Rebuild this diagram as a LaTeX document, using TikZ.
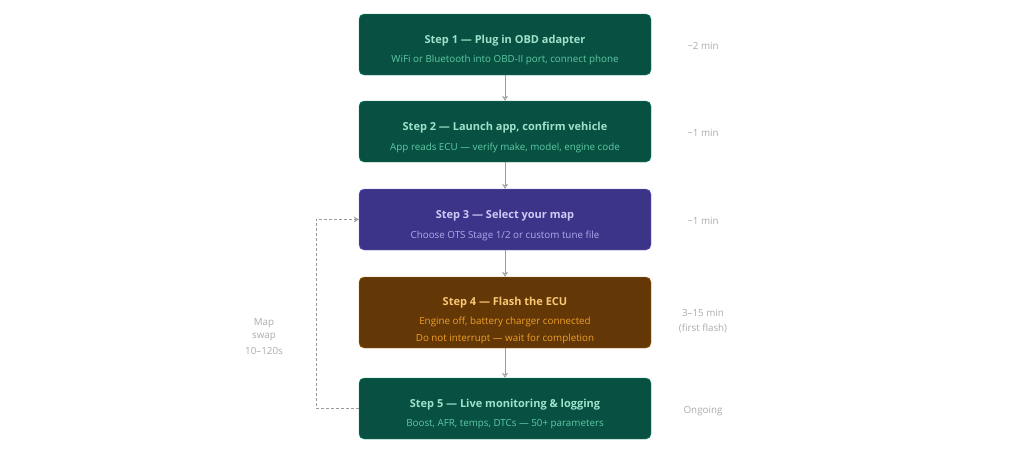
\documentclass[tikz,border=0pt]{standalone}
\usepackage{fontspec}
\setmainfont{Open Sans}
\usetikzlibrary{arrows.meta}
\definecolor{gbg}{HTML}{085041}
\definecolor{gbd}{HTML}{1D9E75}
\definecolor{gti}{HTML}{9FE1CB}
\definecolor{gsu}{HTML}{5DCAA5}
\definecolor{pbg}{HTML}{3C3489}
\definecolor{pbd}{HTML}{7F77DD}
\definecolor{pti}{HTML}{CECBF6}
\definecolor{psu}{HTML}{AFA9EC}
\definecolor{bbg}{HTML}{633806}
\definecolor{bbd}{HTML}{BA7517}
\definecolor{bti}{HTML}{FAC775}
\definecolor{bsu}{HTML}{EF9F27}
\definecolor{conn}{HTML}{9A9A9A}
\definecolor{note}{HTML}{ABABAB}
\tikzset{
  stepbox/.style={rectangle, rounded corners=5pt, minimum width=292pt, line width=0.4pt, inner sep=0pt},
  ttl/.style={font=\fontsize{11}{13}\selectfont\bfseries, yshift=-1.5pt},
  sub/.style={font=\fontsize{9.8}{11}\selectfont, yshift=-1.5pt},
  notetxt/.style={font=\fontsize{9.8}{11}\selectfont, text=note, align=center, yshift=-1pt},
  link/.style={draw=conn, line width=0.7pt, -{Stealth[open, length=5pt, width=6pt]}},
  loopl/.style={draw=conn, line width=0.8pt, dashed, dash pattern=on 3pt off 2pt, -{Stealth[open, length=5pt, width=6pt]}}
}
\begin{document}
\begin{tikzpicture}[x=1pt,y=-1pt]
\useasboundingbox (0,0) rectangle (1015,459);
% boxes
\node[stepbox, fill=gbg, draw=gbd, minimum height=61pt] (s1) at (505,44.5) {};
\node[stepbox, fill=gbg, draw=gbd, minimum height=61pt] (s2) at (505,131.5) {};
\node[stepbox, fill=pbg, draw=pbd, minimum height=61pt] (s3) at (505,219.5) {};
\node[stepbox, fill=bbg, draw=bbd, minimum height=71pt] (s4) at (505,312.5) {};
\node[stepbox, fill=gbg, draw=gbd, minimum height=61pt] (s5) at (505,408.5) {};
% texts
\node[ttl, text=gti] (t1) at (505,39) {Step 1 — Plug in OBD adapter};
\node[sub, text=gsu] (u1) at (505,58) {WiFi or Bluetooth into OBD-II port, connect phone};
\node[ttl, text=gti] (t2) at (505,126) {Step 2 — Launch app, confirm vehicle};
\node[sub, text=gsu] (u2) at (505,146) {App reads ECU — verify make, model, engine code};
\node[ttl, text=pti] (t3) at (505,214) {Step 3 — Select your map};
\node[sub, text=psu] (u3) at (505,234) {Choose OTS Stage 1/2 or custom tune file};
\node[ttl, text=bti] (t4) at (505,301) {Step 4 — Flash the ECU};
\node[sub, text=bsu] (u4) at (505,320) {Engine off, battery charger connected};
\node[sub, text=bsu] (v4) at (505,337) {Do not interrupt — wait for completion};
\node[ttl, text=gti] (t5) at (505,403) {Step 5 — Live monitoring \& logging};
\node[sub, text=gsu] (u5) at (505,423) {Boost, AFR, temps, DTCs — 50+ parameters};
% right notes
\node[notetxt] (n1) at (703,45) {\textasciitilde 2 min};
\node[notetxt] (n2) at (703,132) {\textasciitilde 1 min};
\node[notetxt] (n3) at (703,220) {\textasciitilde 1 min};
\node[notetxt] (n4a) at (703,312) {3–15 min};
\node[notetxt] (n4b) at (703,328) {(first flash)};
\node[notetxt] (n5) at (703,410) {Ongoing};
% left note
\node[notetxt] (m1) at (264,322) {Map};
\node[notetxt] (m2) at (264,336) {swap};
\node[notetxt] (m3) at (264,350) {10–120s};
% connectors
\draw[link] (s1.south) -- (s2.north);
\draw[link] (s2.south) -- (s3.north);
\draw[link] (s3.south) -- (s4.north);
\draw[link] (s4.south) -- (s5.north);
\coordinate (lb) at (316,408.5);
\coordinate (lt) at (316,219.5);
\draw[loopl] (s5.west) -- (lb) -- (lt) -- (s3.west);
\end{tikzpicture}
\end{document}
